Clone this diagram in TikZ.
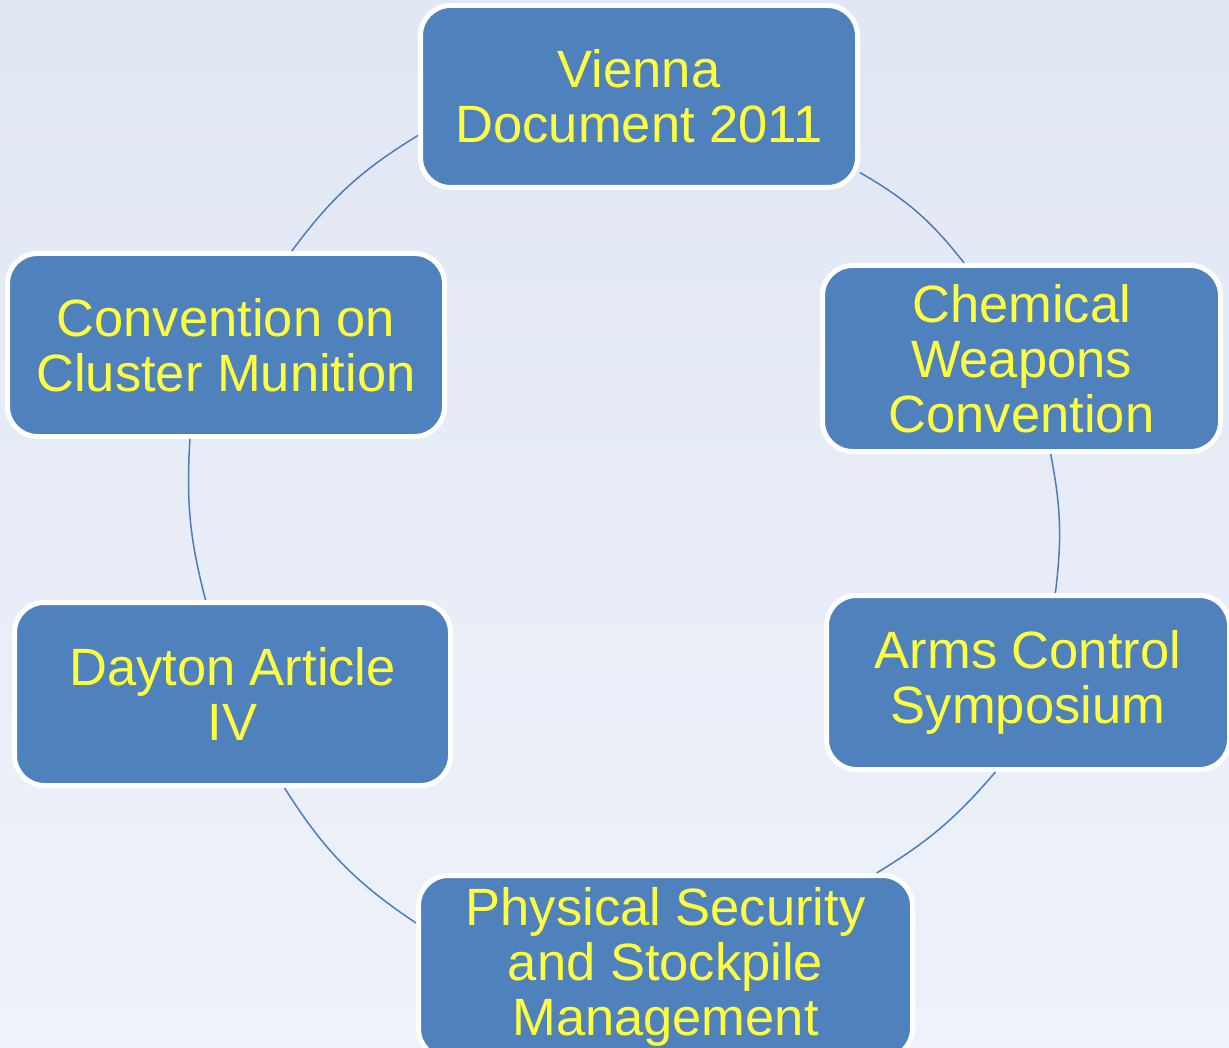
\documentclass[tikz,border=0pt]{standalone}
\usepackage{fontspec}
\setmainfont{Liberation Sans}
\definecolor{boxblue}{RGB}{79,129,189}
\definecolor{linkblue}{RGB}{74,126,187}
\definecolor{txtyellow}{RGB}{255,255,64}
\definecolor{bgtop}{RGB}{225,231,243}
\definecolor{bgbot}{RGB}{238,242,250}
\tikzset{
  cyclebox/.style={draw=white, line width=5pt, outer sep=2.5pt, fill=boxblue,
    rounded corners=30pt, inner sep=0pt, align=center, text=txtyellow,
    font=\fontsize{52.5}{55}\selectfont},
  link/.style={draw=linkblue, line width=1.5pt}
}
\begin{document}
\begin{tikzpicture}[x=1pt,y=1pt]
\useasboundingbox (0,0) rectangle (1229,-1048);
\clip (0,0) rectangle (1229,-1048);
\shade[top color=bgtop, bottom color=bgbot] (0,0) rectangle (1229,-1048);

\node[cyclebox, minimum width=437pt, minimum height=182pt] (v) at (639,-96.5) {Vienna\\Document 2011};
\node[cyclebox, minimum width=398pt, minimum height=186pt] (c) at (1021.5,-358.5) {Chemical\\Weapons\\Convention};
\node[cyclebox, minimum width=403pt, minimum height=174pt] (a) at (1028,-682.5) {Arms Control\\Symposium};
\node[cyclebox, minimum width=494pt, minimum height=183pt] (p) at (665.5,-967) {Physical Security\\and Stockpile\\Management};
\node[cyclebox, minimum width=436pt, minimum height=183pt] (d) at (232.5,-694) {Dayton Article\\IV};
\node[cyclebox, minimum width=437pt, minimum height=183pt] (cv) at (226,-345) {Convention on\\Cluster Munition};

\draw[link] (v.-19) to[bend left=11] (c.121);
\draw[link] (c.-73) to[bend left=9] (a.73);
\draw[link] (a.-110) to[bend left=9] (p.24);
\draw[link] (p.170) to[bend left=12] (d.-61);
\draw[link] (d.106) to[bend left=9] (cv.-111);
\draw[link] (cv.55.5) to[bend left=11] (v.190);
\end{tikzpicture}
\end{document}
